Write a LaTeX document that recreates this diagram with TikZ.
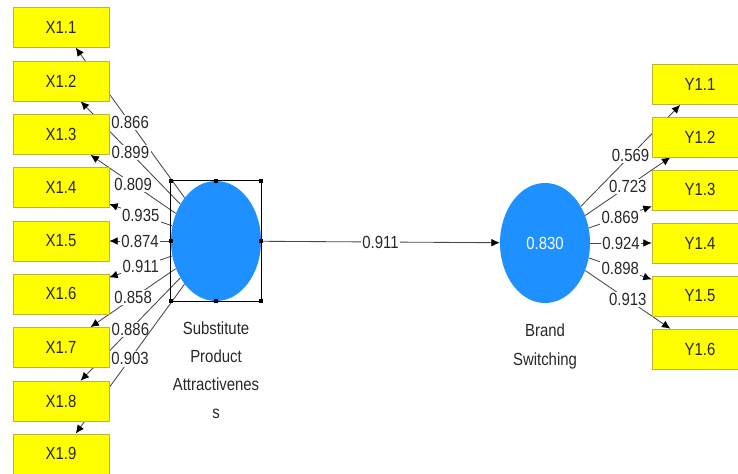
\documentclass[tikz,border=0pt]{standalone}
\usepackage{fontspec}
\setmainfont{Liberation Sans}[FakeStretch=0.85]
\usepackage{tikz}
\usetikzlibrary{shapes,arrows.meta,positioning,calc,backgrounds}
\definecolor{plsblue}{RGB}{30,144,255}
\definecolor{plsyellow}{RGB}{255,255,0}
\definecolor{darkline}{RGB}{70,70,70}
\definecolor{darktext}{RGB}{40,40,40}

\tikzset{
  indicator/.style={rectangle, fill=plsyellow, draw=yellow!70!black, line width=0.4pt,
    minimum width=2.4cm, minimum height=1.0cm, inner sep=0pt, text=darktext},
  latent/.style={ellipse, fill=plsblue, minimum width=2.25cm, minimum height=3cm,
    inner sep=0pt, text=white},
  loading/.style={draw=darkline, line width=0.6pt, -{Latex[length=6pt,width=5.5pt,black]}},
  weight/.style={fill=white, inner sep=1pt, text=darktext},
  handle/.style={fill=black, minimum size=0.1cm, inner sep=0pt},
  caption/.style={align=center, inner sep=0pt, text=darktext}
}

\begin{document}
\begin{tikzpicture}[font=\fontsize{12.5}{20}\selectfont]
  \useasboundingbox (0,0) rectangle (18.45,11.825);
  \clip (0,0) rectangle (18.45,11.825);

  % Indicators (left)
  \node[indicator] (x11) at (1.525,11.14) {X1.1};
  \node[indicator] (x12) at (1.525,9.80) {X1.2};
  \node[indicator] (x13) at (1.525,8.46) {X1.3};
  \node[indicator] (x14) at (1.525,7.14) {X1.4};
  \node[indicator] (x15) at (1.525,5.80) {X1.5};
  \node[indicator] (x16) at (1.525,4.48) {X1.6};
  \node[indicator] (x17) at (1.525,3.14) {X1.7};
  \node[indicator] (x18) at (1.525,1.80) {X1.8};
  \node[indicator] (x19) at (1.525,0.48) {X1.9};

  % Indicators (right)
  \node[indicator] (y11) at (17.5,9.71) {Y1.1};
  \node[indicator] (y12) at (17.5,8.40) {Y1.2};
  \node[indicator] (y13) at (17.5,7.08) {Y1.3};
  \node[indicator] (y14) at (17.5,5.75) {Y1.4};
  \node[indicator] (y15) at (17.5,4.43) {Y1.5};
  \node[indicator] (y16) at (17.5,3.10) {Y1.6};

  % Latent variables
  \node[latent] (sp) at (5.4,5.8) {};
  \node[latent] (bs) at (13.625,5.75) {0.830};
  \node[caption, below=0.5cm of sp] (splabel) {Substitute\\Product\\Attractivenes\\s};
  \node[caption, below=0.5cm of bs, font=\fontsize{12.5}{21}\selectfont] (bslabel) {Brand\\Switching};

  % Selection frame
  \draw[line width=0.6pt] (sp.west |- sp.north) rectangle (sp.east |- sp.south);
  \node[handle] (h1) at (sp.west |- sp.north) {};
  \node[handle] (h2) at (sp.north) {};
  \node[handle] (h3) at (sp.east |- sp.north) {};
  \node[handle] (h4) at (sp.west) {};
  \node[handle] (h5) at (sp.east) {};
  \node[handle] (h6) at (sp.west |- sp.south) {};
  \node[handle] (h7) at (sp.south) {};
  \node[handle] (h8) at (sp.east |- sp.south) {};

  % Loadings
  \begin{pgfonlayer}{background}
    \draw[loading] (sp) -- node[weight] {0.866} (x11);
    \draw[loading] (sp) -- node[weight] {0.899} (x12);
    \draw[loading] (sp) -- node[weight] {0.809} (x13);
    \draw[loading] (sp) -- node[weight] {0.935} (x14);
    \draw[loading] (sp) -- node[weight] {0.874} (x15);
    \draw[loading] (sp) -- node[weight] {0.911} (x16);
    \draw[loading] (sp) -- node[weight] {0.858} (x17);
    \draw[loading] (sp) -- node[weight] {0.886} (x18);
    \draw[loading] (sp) -- node[weight] {0.903} (x19);

    \draw[loading] (bs) -- node[weight] {0.569} (y11);
    \draw[loading] (bs) -- node[weight] {0.723} (y12);
    \draw[loading] (bs) -- node[weight] {0.869} (y13);
    \draw[loading] (bs) -- node[weight] {0.924} (y14);
    \draw[loading] (bs) -- node[weight] {0.898} (y15);
    \draw[loading] (bs) -- node[weight] {0.913} (y16);

    % Path coefficient
    \draw[loading] (sp) -- node[weight] {0.911} (bs);
  \end{pgfonlayer}
\end{tikzpicture}
\end{document}
